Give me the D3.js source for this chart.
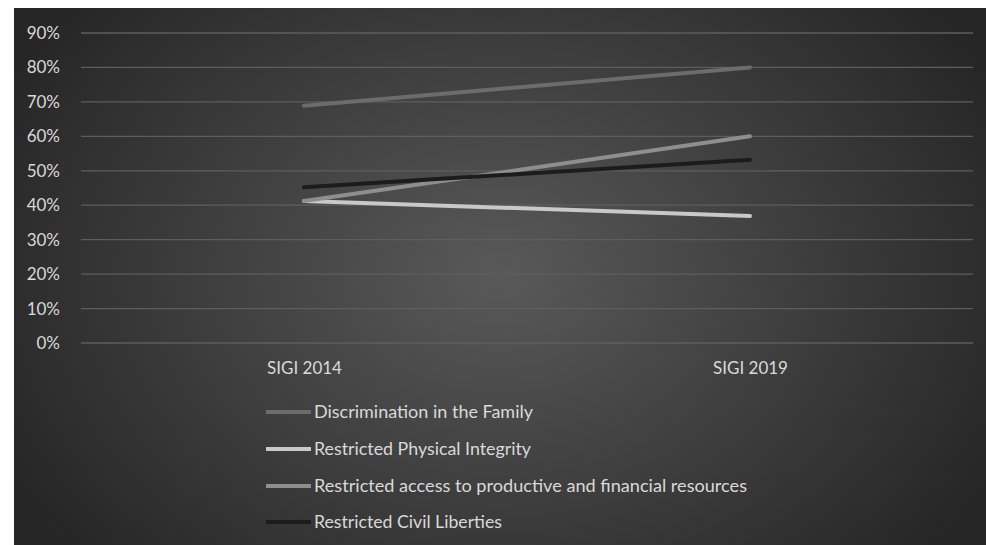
<!DOCTYPE html>
<html>
<head>
<meta charset="utf-8">
<script src="https://cdn.jsdelivr.net/npm/d3@7"></script>
<style>
  html, body { margin: 0; padding: 0; background: #ffffff; }
  svg { display: block; }
  text { font-family: Lato, "Open Sans", sans-serif; }
</style>
</head>
<body>
<svg id="chart" width="986" height="545"></svg>
<script>
const categories = ["SIGI 2014", "SIGI 2019"];
const seriesNames = [
  "Discrimination in the Family",
  "Restricted Physical Integrity",
  "Restricted access to productive and financial resources",
  "Restricted Civil Liberties"
];
const familyValues = [0.689, 0.80];
const physicalValues = [0.412, 0.369];
const resourcesValues = [0.412, 0.60];
const civilValues = [0.452, 0.532];
const yTicks = [0, 0.1, 0.2, 0.3, 0.4, 0.5, 0.6, 0.7, 0.8, 0.9];
const seriesColors = ["#6c6c6c", "#c9c9c9", "#8e8e8e", "#1c1c1c"];

const series = seriesNames.map((name, i) => ({
  name,
  values: [familyValues, physicalValues, resourcesValues, civilValues][i],
  color: seriesColors[i]
}));

const svg = d3.select("#chart");
const W = 986, H = 545;

const defs = svg.append("defs");
const grad = defs.append("radialGradient")
  .attr("id", "bg").attr("gradientUnits", "userSpaceOnUse")
  .attr("cx", 500).attr("cy", 276).attr("r", 560)
  .attr("gradientTransform", "translate(500,276) scale(1,0.75) translate(-500,-276)");
grad.append("stop").attr("offset", "0%").attr("stop-color", "#595959");
grad.append("stop").attr("offset", "100%").attr("stop-color", "#262626");

svg.append("rect").attr("x", 14).attr("y", 8).attr("width", W - 14).attr("height", H - 8)
  .attr("fill", "url(#bg)");

const plot = { left: 81, right: 973, top: 33, bottom: 343 };

const x = d3.scalePoint().domain(categories)
  .range([plot.left, plot.right]).padding(0.5);
const y = d3.scaleLinear().domain([0, 0.9]).range([plot.bottom, plot.top]);

// gridlines
svg.append("g").selectAll("line").data(yTicks).join("line")
  .attr("x1", plot.left).attr("x2", plot.right)
  .attr("y1", d => y(d)).attr("y2", d => y(d))
  .attr("stroke", "#5e5e5e").attr("stroke-width", 1.3);

// y axis labels
const yAxis = d3.axisLeft(y).tickValues(yTicks).tickFormat(d3.format(".0%")).tickSize(0).tickPadding(0);
const ya = svg.append("g").attr("transform", `translate(60,0)`).call(yAxis);
ya.select(".domain").remove();
ya.selectAll("text").attr("fill", "#d9d9d9").style("font-size", "17px")
  .style("font-family", "Lato, sans-serif");

// x axis labels
const xAxis = d3.axisBottom(x).tickSize(0).tickPadding(0);
const xa = svg.append("g").attr("transform", `translate(0,362)`).call(xAxis);
xa.select(".domain").remove();
xa.selectAll("text").attr("fill", "#d9d9d9").style("font-size", "17px")
  .style("font-family", "Lato, sans-serif");

// lines
const line = d3.line().x((d, i) => x(categories[i])).y(d => y(d));
svg.append("g").selectAll("path").data(series).join("path")
  .attr("d", d => line(d.values))
  .attr("fill", "none")
  .attr("stroke", d => d.color)
  .attr("stroke-width", 4)
  .attr("stroke-linecap", "round");

// legend
const legend = svg.append("g");
const rowY = [412, 449, 486, 522];
const targetW = [219, 217, 433, 188];
series.forEach((s, i) => {
  const g = legend.append("g").attr("transform", `translate(266,${rowY[i]})`);
  g.append("line").attr("x1", 0).attr("x2", 45).attr("y1", 0).attr("y2", 0)
    .attr("stroke", s.color).attr("stroke-width", 4);
  const t = g.append("text").attr("x", 48).attr("y", 0).attr("dy", "0.35em")
    .attr("fill", "#d9d9d9").style("font-size", "17px").text(s.name);
  const w = t.node().getComputedTextLength();
  if (Math.abs(w - targetW[i]) > 4) {
    t.attr("textLength", targetW[i]).attr("lengthAdjust", "spacingAndGlyphs");
  }
});
</script>
</body>
</html>
